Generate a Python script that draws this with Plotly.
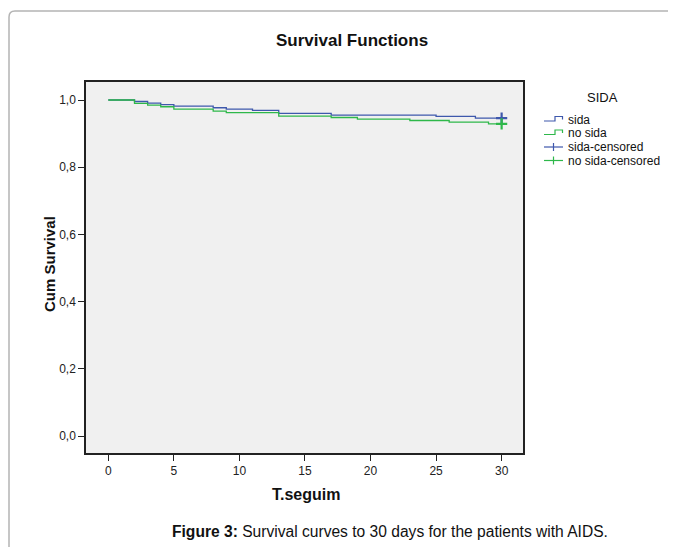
import plotly.graph_objects as go

# ---- data ----
sida_t = [0, 2, 3, 4, 5, 8, 9, 11, 13, 17, 25, 28, 30]
sida_s = [1.0, 0.9955, 0.991, 0.9865, 0.982, 0.977, 0.973, 0.969, 0.960, 0.955, 0.951, 0.946, 0.946]
nosida_t = [0, 2, 3, 4, 5, 8, 9, 13, 17, 19, 23, 26, 29, 30]
nosida_s = [1.0, 0.990, 0.985, 0.980, 0.973, 0.967, 0.9625, 0.952, 0.948, 0.943, 0.939, 0.934, 0.929, 0.929]
censor_t_sida = [30]
censor_s_sida = [0.946]
censor_t_nosida = [30]
censor_s_nosida = [0.929]

x_ticks = [0, 5, 10, 15, 20, 25, 30]
y_ticks = [0.0, 0.2, 0.4, 0.6, 0.8, 1.0]
y_ticktext = ["0,0", "0,2", "0,4", "0,6", "0,8", "1,0"]
legend_labels = ["sida", "no sida", "sida-censored", "no sida-censored"]

BLUE = "#3E58AC"
GREEN = "#2EB84A"
FONT = "Liberation Sans, Arial, sans-serif"

# page body has an 8px margin; compensate so the figure lands like the reference
OFF = 8
PAGE_W, PAGE_H = 676, 547
W, H = PAGE_W - OFF, PAGE_H - OFF
# plot area in page pixels: x 86..523, y 82..453
L, R, T, B = 86 - OFF, PAGE_W - 523, 82 - OFF, PAGE_H - 453
PW, PH = W - L - R, H - T - B


def fx(px):
    """page pixel x -> paper fraction"""
    return (px - OFF - L) / PW


def fy(py):
    """page pixel y -> paper fraction"""
    return (H - B - (py - OFF)) / PH


fig = go.Figure()
fig.add_trace(go.Scatter(x=sida_t, y=sida_s, mode="lines", line=dict(color=BLUE, width=1.3, shape="hv"),
                         showlegend=False, hoverinfo="skip"))
fig.add_trace(go.Scatter(x=nosida_t, y=nosida_s, mode="lines", line=dict(color=GREEN, width=1.3, shape="hv"),
                         showlegend=False, hoverinfo="skip"))
fig.add_trace(go.Scatter(x=censor_t_sida, y=censor_s_sida, mode="markers",
                         marker=dict(symbol="cross-thin", size=8, line=dict(color=BLUE, width=2.2)),
                         showlegend=False, hoverinfo="skip"))
fig.add_trace(go.Scatter(x=censor_t_nosida, y=censor_s_nosida, mode="markers",
                         marker=dict(symbol="cross-thin", size=8, line=dict(color=GREEN, width=2.2)),
                         showlegend=False, hoverinfo="skip"))

shapes = []
# outer rounded frame (top + left edges)
x0, y0, r = 9, 11, 6
path = (f"M {fx(x0)},{fy(PAGE_H)} L {fx(x0)},{fy(y0 + r)} "
        f"Q {fx(x0)},{fy(y0)} {fx(x0 + r)},{fy(y0)} L {fx(PAGE_W)},{fy(y0)}")
shapes.append(dict(type="path", xref="paper", yref="paper", path=path,
                   line=dict(color="#b4b4b4", width=1.5)))

# custom legend glyphs
rows = [119.5, 133, 147, 160.5]
colors = [BLUE, GREEN, BLUE, GREEN]
for i in range(2):
    yb = rows[i] + 1.5
    yt = rows[i] - 3
    p = (f"M {fx(544)},{fy(yb)} L {fx(555)},{fy(yb)} L {fx(555)},{fy(yt)} "
         f"L {fx(562.5)},{fy(yt)} L {fx(562.5)},{fy(rows[i])}")
    shapes.append(dict(type="path", xref="paper", yref="paper", path=p,
                       line=dict(color=colors[i], width=1.2)))
for i in range(2, 4):
    yc = rows[i]
    shapes.append(dict(type="line", xref="paper", yref="paper", x0=fx(544), x1=fx(563), y0=fy(yc), y1=fy(yc),
                       line=dict(color=colors[i], width=1.2)))
    shapes.append(dict(type="line", xref="paper", yref="paper", x0=fx(553.5), x1=fx(553.5), y0=fy(yc - 4),
                       y1=fy(yc + 4), line=dict(color=colors[i], width=1.2)))

annotations = []
annotations.append(dict(text="<b>Survival Functions</b>", x=fx(352), y=fy(40), xref="paper", yref="paper",
                        showarrow=False, font=dict(size=17, color="#111", family=FONT),
                        xanchor="center", yanchor="middle"))
annotations.append(dict(text="SIDA", x=fx(602), y=fy(97), xref="paper", yref="paper",
                        showarrow=False, font=dict(size=13, color="#111", family=FONT),
                        xanchor="center", yanchor="middle"))
for lab, yy in zip(legend_labels, rows):
    annotations.append(dict(text=lab, x=fx(566), y=fy(yy), xref="paper", yref="paper",
                            showarrow=False, font=dict(size=12, color="#111", family=FONT),
                            xanchor="left", yanchor="middle"))
annotations.append(dict(text="<b>Figure 3:</b> Survival curves to 30 days for the patients with AIDS.",
                        x=fx(389.5), y=fy(531), xref="paper", yref="paper", showarrow=False,
                        font=dict(size=15.6, color="#111", family=FONT), xanchor="center", yanchor="middle"))
annotations.append(dict(text="<b>Cum Survival</b>", x=fx(49), y=fy(264), xref="paper", yref="paper",
                        showarrow=False, textangle=-90, font=dict(size=15, color="#111", family=FONT),
                        xanchor="center", yanchor="middle"))
annotations.append(dict(text="<b>T.seguim</b>", x=fx(306), y=fy(494), xref="paper", yref="paper",
                        showarrow=False, font=dict(size=16, color="#111", family=FONT),
                        xanchor="center", yanchor="middle"))

fig.update_layout(
    width=W, height=H,
    margin=dict(l=L, r=R, t=T, b=B, pad=0),
    paper_bgcolor="white", plot_bgcolor="#F0F0F0",
    font=dict(family=FONT, color="#222", size=12),
    shapes=shapes, annotations=annotations, showlegend=False,
)
fig.update_xaxes(range=[-1.7, 31.63], tickvals=x_ticks, ticks="outside", ticklen=6, tickwidth=1.3,
                 tickcolor="#222", showgrid=False, zeroline=False, showline=True, linecolor="#222",
                 linewidth=1.5, mirror=True, tickfont=dict(size=12, color="#222", family=FONT))
fig.update_yaxes(range=[-0.0506, 1.0536], tickvals=y_ticks, ticktext=y_ticktext, ticks="outside", ticklen=6,
                 tickwidth=1.3, tickcolor="#222", showgrid=False, zeroline=False, showline=True,
                 linecolor="#222", linewidth=1.5, mirror=True, tickfont=dict(size=12, color="#222", family=FONT))

fig.write_html("out.html")
